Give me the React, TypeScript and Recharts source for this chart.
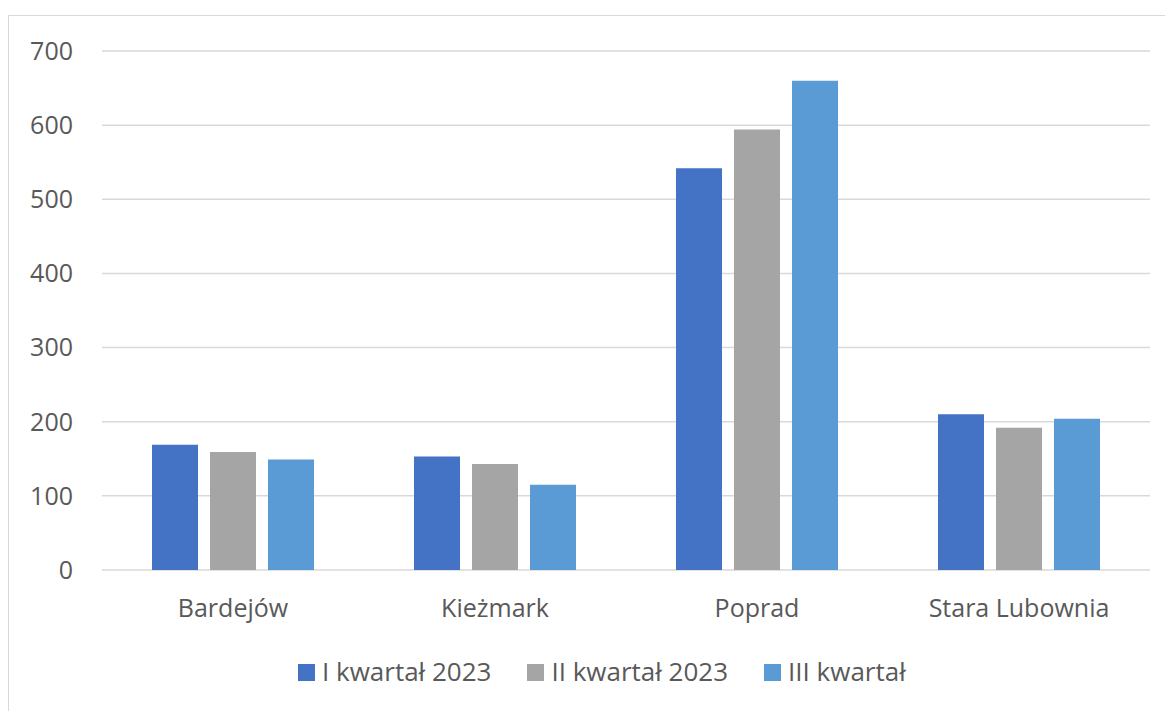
import { BarChart, Bar, XAxis, YAxis, CartesianGrid, Legend } from "recharts";

const cities = ["Bardejów", "Kieżmark", "Poprad", "Stara Lubownia"];
const q1 = [169, 153, 542, 210];
const q2 = [159, 143, 594, 192];
const q3 = [149, 115, 660, 204];
const yTicks = [0, 100, 200, 300, 400, 500, 600, 700];

const series = [
  { key: "q1", name: "I kwartał 2023", color: "#4472C4" },
  { key: "q2", name: "II kwartał 2023", color: "#A5A5A5" },
  { key: "q3", name: "III kwartał", color: "#5B9BD5" },
];

const data = cities.map((city, i) => ({ city, q1: q1[i], q2: q2[i], q3: q3[i] }));

const FONT = "'Open Sans', sans-serif";
const TEXT = "#595959";

function LegendRow() {
  return (
    <div style={{ display: "flex", alignItems: "center", fontFamily: FONT, fontSize: 26, color: TEXT, whiteSpace: "nowrap" }}>
      {series.map((s, i) => (
        <div key={s.key} style={{ display: "flex", alignItems: "center", marginRight: i < series.length - 1 ? 36 : 0 }}>
          <span style={{ display: "inline-block", width: 17, height: 17, background: s.color, marginRight: 7, marginTop: 2 }} />
          <span>{s.name}</span>
        </div>
      ))}
    </div>
  );
}

export default function App() {
  return (
    <div
      style={{
        marginTop: 7,
        width: 1164,
        height: 695,
        borderTop: "1px solid #d9d9d9",
        borderLeft: "1px solid #d9d9d9",
        background: "#fff",
      }}
    >
      <BarChart
        width={1164}
        height={695}
        data={data}
        margin={{ top: 35, right: 23, left: 0, bottom: 0 }}
        barSize={46}
        barGap={12}
      >
        <CartesianGrid vertical={false} stroke="#d9d9d9" strokeWidth={1.5} />
        <XAxis
          dataKey="city"
          axisLine={false}
          tickLine={false}
          tickSize={0}
          tickMargin={29}
          height={141}
          tick={{ fontSize: 25, fill: TEXT, fontFamily: FONT }}
        />
        <YAxis
          domain={[0, 700]}
          ticks={yTicks}
          axisLine={false}
          tickLine={false}
          tickSize={0}
          tickMargin={29}
          width={93}
          tick={{ fontSize: 25, fill: TEXT, fontFamily: FONT }}
        />
        <Legend
          verticalAlign="middle"
          content={() => <LegendRow />}
          wrapperStyle={{ top: 637, left: 289, width: "auto" }}
        />
        {series.map((s) => (
          <Bar key={s.key} dataKey={s.key} name={s.name} fill={s.color} isAnimationActive={false} />
        ))}
      </BarChart>
    </div>
  );
}
